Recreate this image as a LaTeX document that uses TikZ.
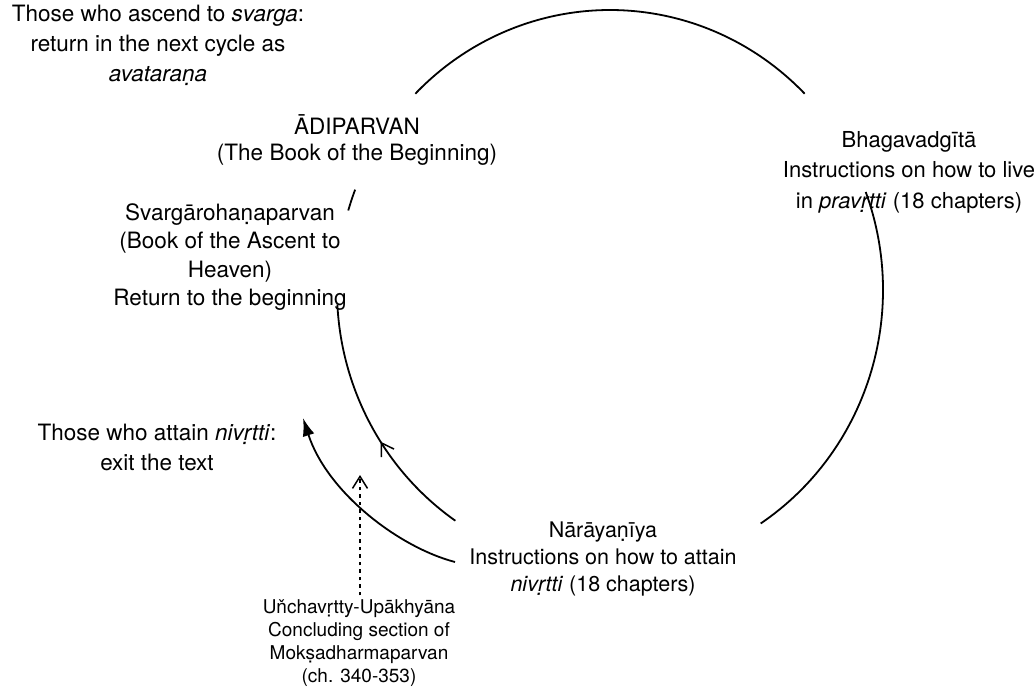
\documentclass[tikz,border=0pt]{standalone}
\usepackage{fontspec}
\setmainfont{TeX Gyre Heros}
\usetikzlibrary{arrows.meta,decorations.markings}
\tikzset{
  lbl/.style={align=center, inner sep=0pt, font=\fontsize{22.5}{30}\selectfont},
  smalllbl/.style={align=center, inner sep=0pt, font=\fontsize{19}{23}\selectfont},
  cyc/.style={line width=1.8pt},
  midarrow/.style={postaction={decorate}, decoration={markings,
     mark=at position #1 with {\arrow{Straight Barb[length=12pt,width=15pt,line width=1.5pt]}}}},
}
\begin{document}
\begin{tikzpicture}[x=1pt,y=-1pt]
\useasboundingbox (0,0) rectangle (1035,693);
\coordinate (c) at (610,290);
% text nodes
\node[lbl] (ascend) at (158,45) {Those who ascend to \textit{svarga}:\\return in the next cycle as\\\textit{avataraṇa}};
\node[lbl, font=\fontsize{22.5}{26}\selectfont] (adi) at (357,140) {ĀDIPARVAN\\(The Book of the Beginning)};
\node[lbl, font=\fontsize{22.5}{28.5}\selectfont] (svarg) at (230,257) {Svargārohaṇaparvan\\(Book of the Ascent to\\Heaven)\\Return to the beginning};
\node[lbl, font=\fontsize{22}{30.5}\selectfont] (bhaga) at (909,172) {Bhagavadgītā\\Instructions on how to live\\in \textit{pravṛtti} (18 chapters)};
\node[lbl] (nivr) at (157,447) {Those who attain \textit{nivṛtti}:\\exit the text};
\node[lbl, font=\fontsize{21.5}{27}\selectfont] (nara) at (603,559) {Nārāyaṇīya\\Instructions on how to attain\\\textit{nivṛtti} (18 chapters)};
\node[smalllbl] (unch) at (359,643) {Uňchavṛtty-Upākhyāna\\Concluding section of\\Mokṣadharmaparvan\\(ch. 340-353)};
% the cycle (ellipse centred at c)
\draw[cyc] (c) ++(44.5:273pt and 280pt) arc[start angle=44.5, end angle=135.5, x radius=273pt, y radius=280pt];
\draw[cyc] (c) ++(20.5:273pt and 280pt) arc[start angle=20.5, end angle=-56.5, x radius=273pt, y radius=280pt];
\draw[cyc] (c) ++(159:273pt and 280pt) arc[start angle=159, end angle=163.5, x radius=273pt, y radius=280pt];
\draw[cyc, midarrow=0.43] (c) ++(235.5:273pt and 280pt) arc[start angle=235.5, end angle=183, x radius=273pt, y radius=280pt];
% exit path
\coordinate (exitstart) at (455,562);
\coordinate (exitend) at (303,418);
\draw[cyc, -{Latex[length=18pt,width=12pt]}] (exitstart) .. controls (398,547) and (327,492) .. (exitend);
% dotted link
\coordinate (dottop) at (360,475);
\draw[line width=1.6pt, dash pattern=on 3.5pt off 4pt, -{Straight Barb[length=12pt,width=15pt,line width=1.5pt]}] (unch.north -| dottop) ++(0,-4) -- (dottop);
\end{tikzpicture}
\end{document}
